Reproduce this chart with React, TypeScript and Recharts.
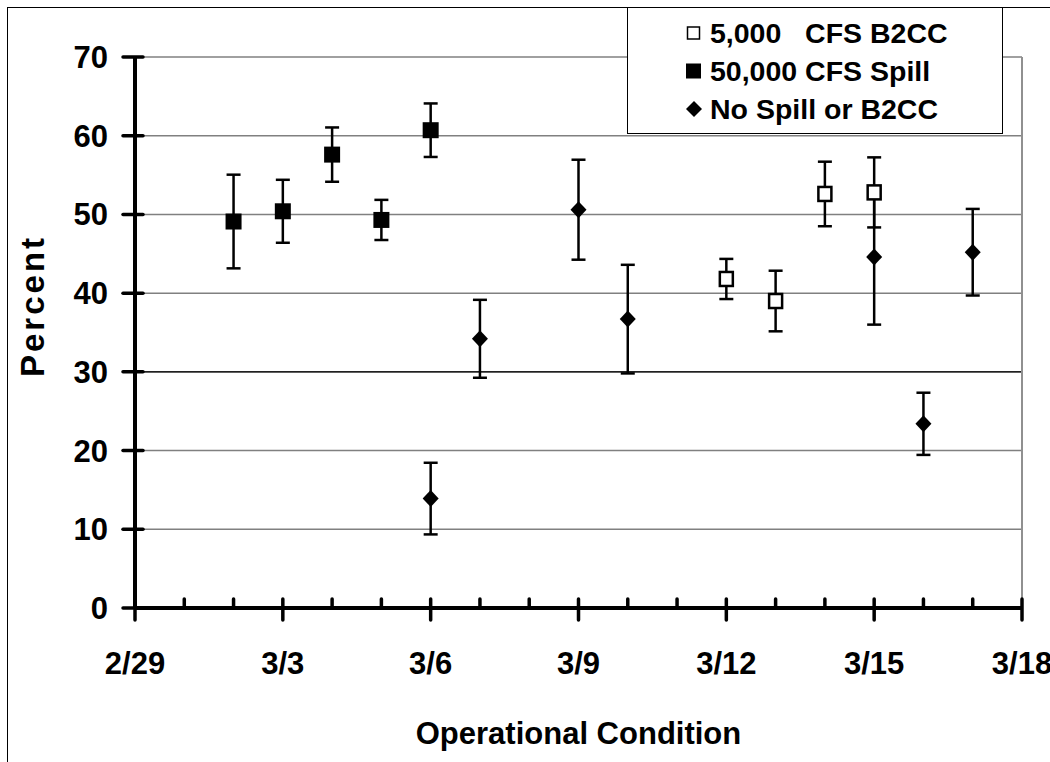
import React from 'react';
import {
  ScatterChart,
  Scatter,
  XAxis,
  YAxis,
  CartesianGrid,
  ErrorBar,
  Legend,
  ReferenceLine,
} from 'recharts';

// ---- data (x = days after 2/29) ----
const dayTicks = [0, 1, 2, 3, 4, 5, 6, 7, 8, 9, 10, 11, 12, 13, 14, 15, 16, 17, 18];
const majorLabels: Record<number, string> = {
  0: '2/29',
  3: '3/3',
  6: '3/6',
  9: '3/9',
  12: '3/12',
  15: '3/15',
  18: '3/18',
};
const yTicks = [0, 10, 20, 30, 40, 50, 60, 70];

const b2ccDays = [12, 13, 14, 15];
const b2ccValues = [41.8, 39.0, 52.6, 52.8];
const b2ccErrors = [2.55, 3.85, 4.1, 4.45];

const spillDays = [2, 3, 4, 5, 6];
const spillValues = [49.1, 50.4, 57.6, 49.3, 60.7];
const spillErrors = [5.95, 4.0, 3.45, 2.55, 3.4];

const noSpillDays = [6, 7, 9, 10, 15, 16, 17];
const noSpillValues = [13.9, 34.2, 50.6, 36.7, 44.6, 23.4, 45.2];
const noSpillErrors = [4.55, 4.95, 6.35, 6.9, 8.6, 3.95, 5.5];

const seriesNames = ['5,000   CFS B2CC', '50,000 CFS Spill', 'No Spill or B2CC'];

const build = (days: number[], vals: number[], errs: number[]) =>
  days.map((d, i) => ({ x: d, y: vals[i], err: errs[i] }));

const b2ccData = build(b2ccDays, b2ccValues, b2ccErrors);
const spillData = build(spillDays, spillValues, spillErrors);
const noSpillData = build(noSpillDays, noSpillValues, noSpillErrors);

const FONT = '"Liberation Sans", Arial, Helvetica, sans-serif';

const FilledSquare = (props: any) => {
  const { cx, cy } = props;
  return <rect x={cx - 8} y={cy - 8} width={16} height={16} fill="#000" />;
};
const OpenSquare = (props: any) => {
  const { cx, cy } = props;
  return (
    <rect x={cx - 6.5} y={cy - 7} width={13} height={14} fill="#fff" stroke="#000" strokeWidth={2.5} />
  );
};
const Diamond = (props: any) => {
  const { cx, cy } = props;
  return (
    <path d={`M${cx},${cy - 8.5} L${cx + 8},${cy} L${cx},${cy + 8.5} L${cx - 8},${cy} Z`} fill="#000" />
  );
};

const XTick = (props: any) => {
  const { x, y, payload } = props;
  const label = majorLabels[payload.value];
  const major = label !== undefined;
  return (
    <g>
      <line
        x1={x}
        x2={x}
        y1={y - 9}
        y2={major ? y + 12 : y}
        stroke="#000"
        strokeWidth={3.5}
        strokeLinecap="round"
      />
      {major && (
        <text
          x={x}
          y={y + 66}
          textAnchor="middle"
          fontFamily={FONT}
          fontWeight="bold"
          fontSize={31}
          fill="#000"
        >
          {label}
        </text>
      )}
    </g>
  );
};

const YTick = (props: any) => {
  const { x, y, payload } = props;
  return (
    <g>
      <line x1={x - 12} x2={x + 8} y1={y} y2={y} stroke="#000" strokeWidth={3.5} strokeLinecap="round" />
      <text
        x={x - 27}
        y={y + 11}
        textAnchor="end"
        fontFamily={FONT}
        fontWeight="bold"
        fontSize={31}
        fill="#000"
      >
        {payload.value}
      </text>
    </g>
  );
};

const legendMarkers = [
  <rect key="a" x={1.5} y={2} width={12} height={12} fill="#fff" stroke="#000" strokeWidth={1.5} />,
  <rect key="b" x={0} y={0.5} width={15} height={15} fill="#000" />,
  <path key="c" d="M8,0 L16,8 L8,16 L0,8 Z" fill="#000" />,
];

const LegendBox = () => (
  <div
    style={{
      width: 374,
      height: 119,
      border: '1px solid #000',
      background: '#fff',
      paddingTop: 6,
      boxSizing: 'content-box',
    }}
  >
    {seriesNames.map((name, i) => (
      <div
        key={name}
        style={{
          height: 38,
          display: 'flex',
          alignItems: 'center',
          paddingLeft: 58,
        }}
      >
        <svg width={16} height={16} style={{ display: 'block' }}>
          {legendMarkers[i]}
        </svg>
        <span
          style={{
            marginLeft: 8,
            fontFamily: FONT,
            fontWeight: 'bold',
            fontSize: 28.5,
            color: '#000',
            whiteSpace: 'pre',
            lineHeight: '38px',
          }}
        >
          {name}
        </span>
      </div>
    ))}
  </div>
);

const YTitle = () => (
  <text
    transform="translate(44,306) rotate(-90)"
    textAnchor="middle"
    fontFamily={FONT}
    fontWeight="bold"
    fontSize={33}
    letterSpacing={3}
    fill="#000"
  >
    Percent
  </text>
);

export default function App() {
  return (
    <div
      style={{
        position: 'absolute',
        left: 0,
        top: 0,
        width: 1050,
        height: 762,
        overflow: 'hidden',
        background: '#fff',
      }}
    >
      <div
        style={{
          position: 'absolute',
          left: 7,
          top: 7,
          width: 1200,
          height: 900,
          border: '1.5px solid #000',
        }}
      />
      <div style={{ position: 'absolute', left: 0, top: 0 }}>
        <ScatterChart width={1050} height={762} margin={{ top: 57, right: 28, bottom: 0, left: 0 }}>
          <CartesianGrid horizontal vertical={false} stroke="#808080" strokeWidth={1.5} />
          <ReferenceLine y={30} stroke="#000" strokeWidth={1.2} />
          <ReferenceLine x={18} stroke="#909090" strokeWidth={2} />
          <XAxis
            type="number"
            dataKey="x"
            domain={[0, 18]}
            ticks={dayTicks}
            interval={0}
            tickLine={false}
            tickSize={0}
            tickMargin={0}
            axisLine={{ stroke: '#000', strokeWidth: 4 }}
            tick={XTick}
            height={154}
            label={{
              value: 'Operational Condition',
              position: 'insideBottom',
              offset: 18,
              style: { fontFamily: FONT, fontWeight: 'bold', fontSize: 31, fill: '#000' },
            }}
          />
          <YAxis
            type="number"
            dataKey="y"
            domain={[0, 70]}
            ticks={yTicks}
            interval={0}
            tickLine={false}
            tickSize={0}
            tickMargin={0}
            axisLine={{ stroke: '#000', strokeWidth: 4 }}
            tick={YTick}
            width={135}
            label={{ content: YTitle }}
          />
          <Legend
            layout="vertical"
            align="center"
            verticalAlign="middle"
            content={LegendBox}
            wrapperStyle={{ left: 627, top: 7, width: 376, height: 126 }}
          />
          <Scatter name={seriesNames[2]} data={noSpillData} shape={Diamond} isAnimationActive={false}>
            <ErrorBar dataKey="err" direction="y" width={7} stroke="#000" strokeWidth={2.5} />
          </Scatter>
          <Scatter name={seriesNames[1]} data={spillData} shape={FilledSquare} isAnimationActive={false}>
            <ErrorBar dataKey="err" direction="y" width={7} stroke="#000" strokeWidth={2.5} />
          </Scatter>
          <Scatter name={seriesNames[0]} data={b2ccData} shape={OpenSquare} isAnimationActive={false}>
            <ErrorBar dataKey="err" direction="y" width={7} stroke="#000" strokeWidth={2.5} />
          </Scatter>
        </ScatterChart>
      </div>
    </div>
  );
}
